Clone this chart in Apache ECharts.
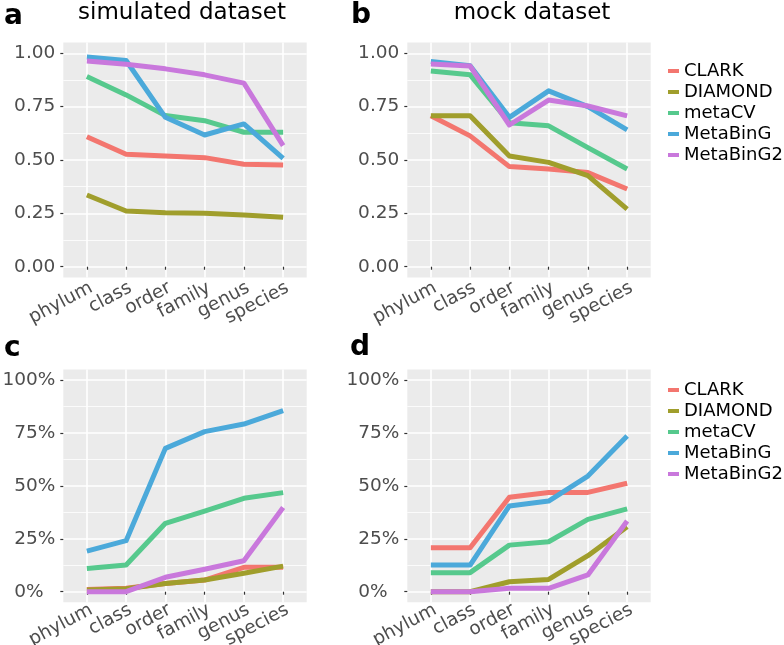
<!DOCTYPE html>
<html><head><meta charset="utf-8">
<script src="https://cdn.jsdelivr.net/npm/echarts@6/dist/echarts.min.js"></script>
<style>html,body{margin:0;padding:0;background:#fff}#c{width:784px;height:645px}</style>
</head><body><div id="c"></div>
<script>
// ---------- data ----------
const categories = ['phylum', 'class', 'order', 'family', 'genus', 'species'];
const tools = ['CLARK', 'DIAMOND', 'metaCV', 'MetaBinG', 'MetaBinG2'];
const toolColors = ['#F3766F', '#A09E2C', '#56C98D', '#4BA9DA', '#C978DC'];
const scoreTickLabels = ['0.00', '0.25', '0.50', '0.75', '1.00'];
const pctTickLabels = ['0%', '25%', '50%', '75%', '100%'];
const columnTitles = ['simulated dataset', 'mock dataset'];
const panelLetters = ['a', 'b', 'c', 'd'];

// panel a : simulated dataset (score)
const aCLARK     = [0.609, 0.527, 0.519, 0.511, 0.480, 0.477];
const aDIAMOND   = [0.336, 0.261, 0.253, 0.250, 0.242, 0.232];
const aMetaCV    = [0.891, 0.805, 0.708, 0.684, 0.630, 0.630];
const aMetaBinG  = [0.982, 0.966, 0.700, 0.617, 0.669, 0.508];
const aMetaBinG2 = [0.964, 0.949, 0.927, 0.899, 0.860, 0.567];
// panel b : mock dataset (score)
const bCLARK     = [0.707, 0.613, 0.469, 0.458, 0.441, 0.364];
const bDIAMOND   = [0.707, 0.707, 0.519, 0.489, 0.427, 0.270];
const bMetaCV    = [0.917, 0.899, 0.675, 0.660, 0.558, 0.458];
const bMetaBinG  = [0.961, 0.942, 0.700, 0.824, 0.750, 0.641];
const bMetaBinG2 = [0.950, 0.940, 0.664, 0.781, 0.753, 0.707];
// panel c : simulated dataset (percent)
const cCLARK     = [1.1, 1.6, 3.9, 5.5, 11.5, 11.5];
const cDIAMOND   = [0.8, 1.4, 3.9, 5.5, 8.7, 12.1];
const cMetaCV    = [11.0, 12.6, 32.3, 38.1, 44.1, 46.8];
const cMetaBinG  = [19.2, 24.1, 67.7, 75.6, 79.2, 85.5];
const cMetaBinG2 = [0, 0, 6.8, 10.6, 14.6, 39.8];
// panel d : mock dataset (percent)
const dCLARK     = [20.8, 20.8, 44.6, 46.9, 46.9, 51.2];
const dDIAMOND   = [0, 0, 4.7, 5.8, 17.0, 30.7];
const dMetaCV    = [9.0, 9.0, 22.0, 23.6, 34.2, 39.1];
const dMetaBinG  = [12.6, 12.6, 40.5, 42.8, 54.6, 73.5];
const dMetaBinG2 = [0, 0, 1.6, 1.6, 7.9, 33.4];

const panelData = [
  [aCLARK, aDIAMOND, aMetaCV, aMetaBinG, aMetaBinG2],
  [bCLARK, bDIAMOND, bMetaCV, bMetaBinG, bMetaBinG2],
  [cCLARK, cDIAMOND, cMetaCV, cMetaBinG, cMetaBinG2],
  [dCLARK, dDIAMOND, dMetaCV, dMetaBinG, dMetaBinG2]
];
const panelIsPct = [false, false, true, true];

// ---------- layout ----------
const FONT = 'DejaVu Sans';
const panelRects = [
  {L: 63.3, T: 42.6, W: 243.4, H: 234.8, lm: 1},
  {L: 407.3, T: 42.6, W: 243.4, H: 234.8, lm: 1},
  {L: 63.3, T: 369.4, W: 243.4, H: 232.9, lm: -2},
  {L: 407.3, T: 369.4, W: 243.4, H: 232.9, lm: -2}
];

const grids = [], xAxes = [], yAxes = [], series = [];
const gridBase = {show: false, containLabel: false, outerBoundsMode: 'none'};
panelRects.forEach((r, i) => {
  const s = r.W / 6.2;
  const x0 = r.L + 0.6 * s, x1 = r.L + r.W - 0.6 * s;
  const ey = r.H * 0.05 / 1.1;
  const yTop = r.T + ey, yBot = r.T + r.H - ey;
  const pct = panelIsPct[i];
  const maxV = pct ? 100 : 1;
  const step = maxV / 4;
  const labels = pct ? pctTickLabels : scoreTickLabels;
  // background panel
  grids.push(Object.assign({}, gridBase, {left: r.L, top: r.T, width: r.W, height: r.H, show: true,
              backgroundColor: '#EBEBEB', borderWidth: 0}));
  xAxes.push({gridIndex: 3 * i, type: 'value', show: false, min: 0, max: 1});
  yAxes.push({gridIndex: 3 * i, type: 'value', show: false, min: 0, max: 1});
  // horizontal grid lines + y labels
  grids.push(Object.assign({}, gridBase, {left: r.L, top: yTop, width: r.W, height: yBot - yTop}));
  xAxes.push({gridIndex: 3 * i + 1, type: 'value', show: false, min: 0, max: 1});
  yAxes.push({
    gridIndex: 3 * i + 1, type: 'value', min: 0, max: maxV, interval: step,
    axisLine: {show: false},
    axisTick: {show: true, length: 3, lineStyle: {color: '#333333', width: 1.2}},
    minorTick: {show: false, splitNumber: 2},
    splitLine: {show: true, lineStyle: {color: '#FFFFFF', width: 1.6}},
    minorSplitLine: {show: true, lineStyle: {color: '#FFFFFF', width: 0.8}},
    axisLabel: {
      margin: 8, color: '#4D4D4D', fontSize: 18.5, fontFamily: FONT,
      formatter: v => {
        const t = labels[Math.round(v / step)];
        return (pct && t.length < 3) ? t + '  ' : t;
      }
    }
  });
  // vertical grid lines + x labels + series
  grids.push(Object.assign({}, gridBase, {left: x0, top: r.T, width: x1 - x0, height: r.H}));
  xAxes.push({
    gridIndex: 3 * i + 2, type: 'category', data: categories, boundaryGap: false,
    axisLine: {show: false},
    axisTick: {show: true, length: 3, lineStyle: {color: '#333333', width: 1.2}},
    splitLine: {show: true, lineStyle: {color: '#FFFFFF', width: 1.6}},
    axisLabel: {interval: 0, rotate: 28, margin: r.lm, verticalAlign: 'top', align: 'right',
                color: '#4D4D4D', fontSize: 18.5, fontFamily: FONT}
  });
  yAxes.push({gridIndex: 3 * i + 2, type: 'value', show: false,
              min: -0.05 * maxV, max: 1.05 * maxV, interval: 0.05 * maxV});
  tools.forEach((name, k) => {
    series.push({
      type: 'line', name: name, xAxisIndex: 3 * i + 2, yAxisIndex: 3 * i + 2,
      data: panelData[i][k], showSymbol: false, symbol: 'none',
      color: toolColors[k],
      lineStyle: {width: 5, color: toolColors[k], join: 'round', cap: 'butt'},
      emphasis: {disabled: true}
    });
  });
});

const legendBase = {
  orient: 'vertical', left: 668, data: tools, icon: 'rect', padding: 0,
  itemWidth: 11, itemHeight: 4, itemGap: 3,
  textStyle: {fontSize: 18, lineHeight: 18, fontFamily: FONT, color: '#000000'},
  selectedMode: false
};

const txt = (text, x, y, font, align) => ({
  type: 'text', x: x, y: y,
  style: {text: text, font: font, fill: '#000000',
          align: align, verticalAlign: 'middle', textAlign: align, textVerticalAlign: 'middle'}
});

const graphics = [
  txt(columnTitles[0], 182, 13, '23px "DejaVu Sans"', 'center'),
  txt(columnTitles[1], 532, 13, '23px "DejaVu Sans"', 'center'),
  txt(panelLetters[0], 4, 17, 'bold 28px "DejaVu Sans"', 'left'),
  txt(panelLetters[1], 351, 15.5, 'bold 28px "DejaVu Sans"', 'left'),
  txt(panelLetters[2], 4, 349, 'bold 28px "DejaVu Sans"', 'left'),
  txt(panelLetters[3], 350, 347.5, 'bold 28px "DejaVu Sans"', 'left')
];

const chart = echarts.init(document.getElementById('c'), null, {renderer: 'canvas'});
chart.setOption({
  animation: false,
  backgroundColor: '#FFFFFF',
  grid: grids, xAxis: xAxes, yAxis: yAxes, series: series,
  legend: [Object.assign({}, legendBase, {top: 62}), Object.assign({}, legendBase, {top: 381})],
  graphic: graphics
});
</script></body></html>
